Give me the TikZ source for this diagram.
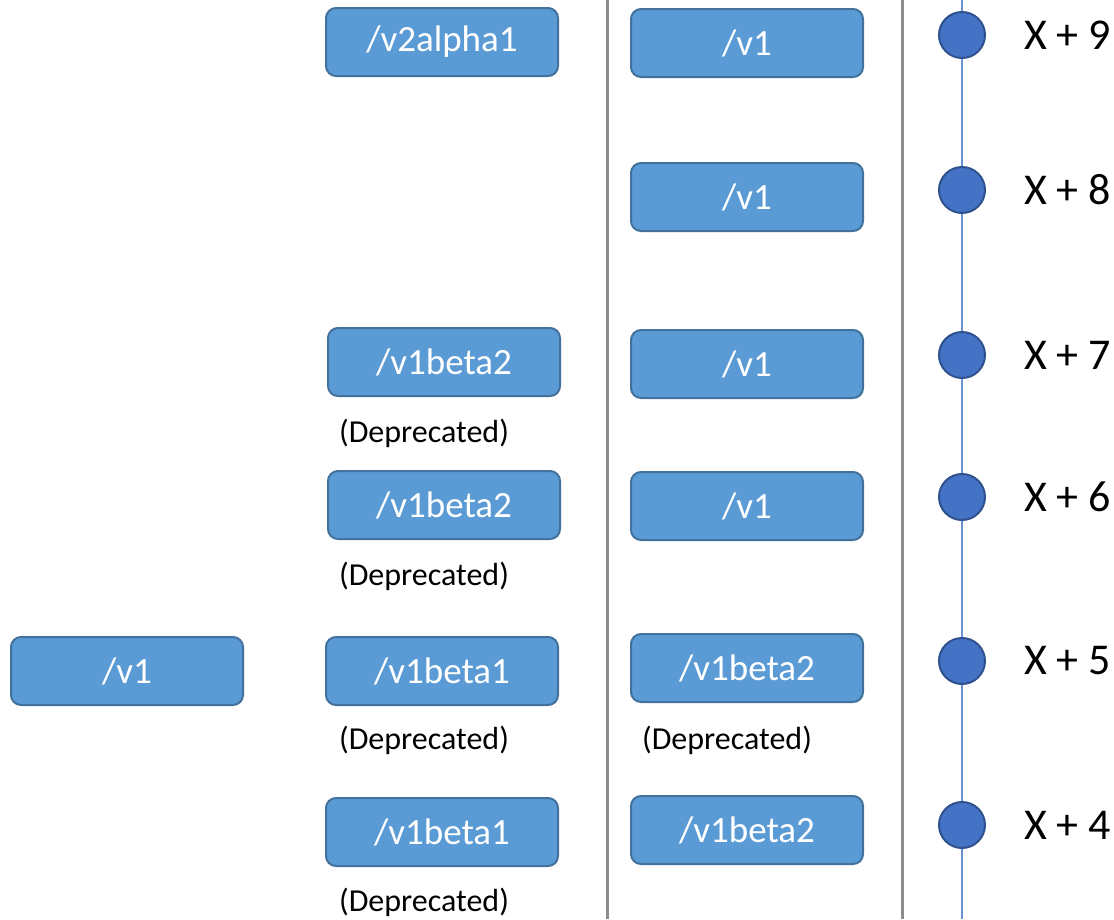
\documentclass[tikz,border=0pt]{standalone}
\usepackage{fontspec}
\setmainfont{Carlito}
\begin{document}
\begin{tikzpicture}[x=1pt,y=-1pt,
  ver/.style={draw=verBorder,fill=verFill,line width=2pt,rounded corners=10pt,
    minimum width=232pt,minimum height=68pt,inner sep=0pt,text=white,
    font=\fontsize{37}{41}\selectfont},
  note/.style={inner sep=0pt,font=\fontsize{32}{36}\selectfont},
  release/.style={circle,draw=dotBorder,fill=dotFill,line width=2pt,minimum size=46pt,inner sep=0pt},
  tag/.style={inner sep=0pt,anchor=west,font=\fontsize{44}{48}\selectfont},
  sep/.style={draw=sepGray,line width=3pt},
  track/.style={draw=trackBlue,line width=1.5pt}]
\definecolor{verFill}{HTML}{5B9BD5}
\definecolor{verBorder}{HTML}{41719C}
\definecolor{dotFill}{HTML}{4472C4}
\definecolor{dotBorder}{HTML}{2F528F}
\definecolor{trackBlue}{HTML}{6A93D6}
\definecolor{sepGray}{HTML}{8C8C8C}
\useasboundingbox (0,0) rectangle (1114,919);

% column separators
\draw[sep] (607,0) -- (607,919);
\draw[sep] (902,0) -- (902,919);

% first column
\node[ver] (a5) at (127,671) {/v1};

% second column
\node[ver] (b9) at (442,42) {/v2alpha1};
\node[ver] (b7) at (444,362) {/v1beta2};
\node[note] (b7n) at (424,433) {(Deprecated)};
\node[ver] (b6) at (444,505) {/v1beta2};
\node[note] (b6n) at (424,576) {(Deprecated)};
\node[ver] (b5) at (442,671) {/v1beta1};
\node[note] (b5n) at (424,740) {(Deprecated)};
\node[ver] (b4) at (442,832) {/v1beta1};
\node[note] (b4n) at (424,902) {(Deprecated)};

% third column
\node[ver] (c9) at (747,43) {/v1};
\node[ver] (c8) at (747,197) {/v1};
\node[ver] (c7) at (747,364) {/v1};
\node[ver] (c6) at (747,506) {/v1};
\node[ver] (c5) at (747,668) {/v1beta2};
\node[note] (c5n) at (727,740) {(Deprecated)};
\node[ver] (c4) at (747,830) {/v1beta2};

% release timeline
\coordinate (ttop) at (962,0);
\coordinate (tbot) at (962,919);
\node[release] (r9) at (962,35) {};
\node[release] (r8) at (962,190) {};
\node[release] (r7) at (962,355) {};
\node[release] (r6) at (962,497) {};
\node[release] (r5) at (962,661) {};
\node[release] (r4) at (962,825) {};
\draw[track] (ttop) -- (r9);
\draw[track] (r9) -- (r8);
\draw[track] (r8) -- (r7);
\draw[track] (r7) -- (r6);
\draw[track] (r6) -- (r5);
\draw[track] (r5) -- (r4);
\draw[track] (r4) -- (tbot);

\node[tag] (t9) at (1024,35) {X + 9};
\node[tag] (t8) at (1024,190) {X + 8};
\node[tag] (t7) at (1024,355) {X + 7};
\node[tag] (t6) at (1024,497) {X + 6};
\node[tag] (t5) at (1024,661) {X + 5};
\node[tag] (t4) at (1024,825) {X + 4};
\end{tikzpicture}
\end{document}
